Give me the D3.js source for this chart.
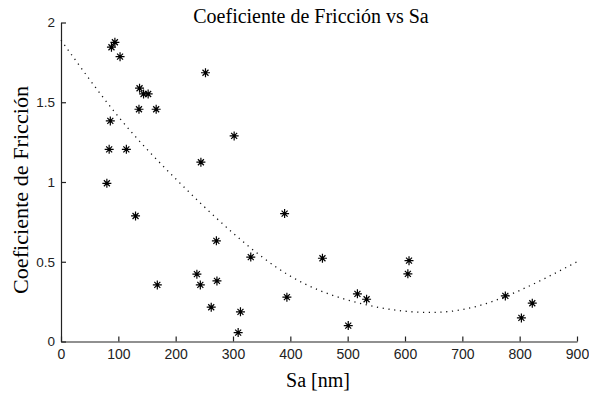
<!DOCTYPE html>
<html>
<head>
<meta charset="utf-8">
<script src="https://cdn.jsdelivr.net/npm/d3@7"></script>
<style>
  body { margin: 0; background: #fff; }
  .axis text { font-family: "Liberation Sans", Arial, sans-serif; fill: #222; }
  .axis path, .axis line { stroke: #222; stroke-width: 1.2; }
</style>
</head>
<body>
<div id="chart"></div>
<script>
// measured points (Sa in nm, friction coefficient)
const saValues = [94, 88, 103, 252, 137, 144, 152, 136, 166, 86, 302, 84, 114, 244, 80,
  130, 271, 237, 243, 168, 272, 262, 313, 309,
  390, 331, 456, 394, 517, 533, 501, 607, 605,
  775, 822, 803];
const cofValues = [1.876, 1.845, 1.786, 1.685, 1.588, 1.552, 1.552, 1.456, 1.456, 1.383, 1.289, 1.205, 1.205, 1.124, 0.992,
  0.787, 0.631, 0.422, 0.355, 0.355, 0.380, 0.215, 0.186, 0.056,
  0.802, 0.529, 0.522, 0.278, 0.299, 0.265, 0.100, 0.507, 0.424,
  0.286, 0.240, 0.148];

// dotted trend line
const fitSa = [0, 100, 200, 300, 400, 500, 600, 700, 800, 900];
const fitCof = [1.89, 1.41, 1.02, 0.68, 0.41, 0.26, 0.19, 0.20, 0.32, 0.50];

const xTicks = [0, 100, 200, 300, 400, 500, 600, 700, 800, 900];
const yTicks = [0, 0.5, 1, 1.5, 2];

const width = 589, height = 394;
const margin = { top: 22.5, right: 12, bottom: 52.5, left: 61 };

const svg = d3.select("#chart")
  .append("svg")
  .attr("width", width)
  .attr("height", height);

const x = d3.scaleLinear()
  .domain([0, 900])
  .range([margin.left, width - margin.right]);
const y = d3.scaleLinear()
  .domain([0, 2])
  .range([height - margin.bottom, margin.top]);

svg.append("g")
  .attr("class", "axis")
  .attr("transform", "translate(0," + (height - margin.bottom) + ")")
  .style("font-size", "14px")
  .call(d3.axisBottom(x).tickValues(xTicks).tickSize(-5).tickSizeOuter(0).tickPadding(8).tickFormat(d3.format("d")));

svg.append("g")
  .attr("class", "axis")
  .attr("transform", "translate(" + margin.left + ",0)")
  .style("font-size", "13.5px")
  .call(d3.axisLeft(y).tickValues(yTicks).tickSize(-5).tickSizeOuter(0).tickPadding(6).tickFormat(d => String(d)));

svg.selectAll(".axis text").attr("font-size", null);

// trend curve
const line = d3.line()
  .x((d, i) => x(fitSa[i]))
  .y(d => y(d))
  .curve(d3.curveNatural);
svg.append("path")
  .datum(fitCof)
  .attr("fill", "none")
  .attr("stroke", "#111")
  .attr("stroke-width", 1.3)
  .attr("stroke-dasharray", "1.2 4.6")
  .attr("d", line);

// asterisk markers
const star = "M-4.5,0H4.5M0,-4.5V4.5M-3,-3L3,3M-3,3L3,-3";
svg.append("g")
  .selectAll("path")
  .data(saValues)
  .join("path")
  .attr("transform", (d, i) => "translate(" + x(d) + "," + y(cofValues[i]) + ")")
  .attr("d", star)
  .attr("fill", "none")
  .attr("stroke", "#000")
  .attr("stroke-width", 1.2);
svg.append("g")
  .selectAll("circle")
  .data(saValues)
  .join("circle")
  .attr("cx", d => x(d))
  .attr("cy", (d, i) => y(cofValues[i]))
  .attr("r", 1.3)
  .attr("fill", "#000");

// titles
svg.append("text")
  .attr("x", 311)
  .attr("y", 23)
  .attr("text-anchor", "middle")
  .style("font-family", "'Liberation Serif', 'Times New Roman', serif")
  .style("font-size", "20px")
  .text("Coeficiente de Fricción vs Sa");

svg.append("text")
  .attr("x", 318)
  .attr("y", 387)
  .attr("text-anchor", "middle")
  .style("font-family", "'Liberation Serif', 'Times New Roman', serif")
  .style("font-size", "20px")
  .text("Sa [nm]");

svg.append("text")
  .attr("transform", "translate(28,190) rotate(-90) scale(1.11,1)")
  .attr("text-anchor", "middle")
  .style("font-family", "'Liberation Serif', 'Times New Roman', serif")
  .style("font-size", "20px")
  .text("Coeficiente de Fricción");
</script>
</body>
</html>
